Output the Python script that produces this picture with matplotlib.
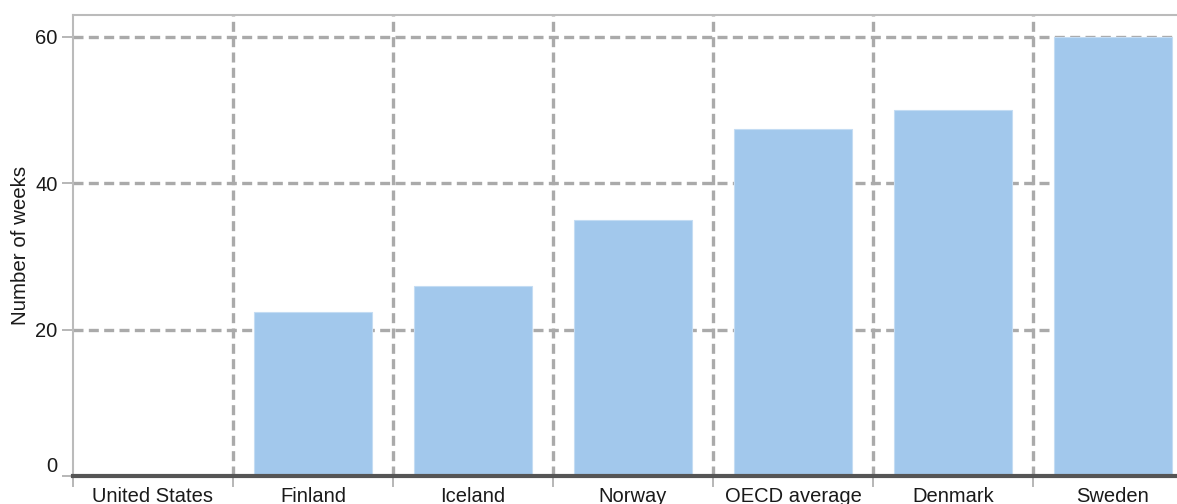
import matplotlib
matplotlib.use("Agg")
import matplotlib.pyplot as plt
import numpy as np

categories = ["United States", "Finland", "Iceland", "Norway", "OECD average", "Denmark", "Sweden"]
weeks = [0, 22.4, 26, 35, 47.4, 50, 60]
yticks = [0, 20, 40, 60]

plt.rcParams['font.family'] = ['Liberation Sans', 'DejaVu Sans']

W, H = 1177, 504
fig = plt.figure(figsize=(W / 100, H / 100), dpi=100)
left, right, top, bottom = 73, 1193, 15, 476
ax = fig.add_axes([left / W, 1 - bottom / H, (right - left) / W, (bottom - top) / H])

x = np.arange(len(categories))
ax.bar(x, weeks, width=0.74, color="#a2c8ec", edgecolor="#c4dcf3", linewidth=0.8, zorder=3)

ax.set_xlim(-0.5, len(categories) - 0.5)
ax.set_ylim(0, 63)

ax.set_xticks(x)
ax.set_xticklabels(categories, fontsize=14.5, color="#1a1a1a")
ax.set_xticks(np.arange(len(categories)) - 0.5, minor=True)
ax.tick_params(axis="x", which="major", length=0, pad=8)
ax.tick_params(axis="x", which="minor", length=8, width=1.2, color="#aaaaaa", direction="out")

ax.set_yticks(yticks)
ax.set_yticklabels([str(v) for v in yticks], fontsize=14.5, color="#1a1a1a")
ax.tick_params(axis="y", length=8, width=1.2, color="#aaaaaa", pad=3)
ax.get_yticklabels()[0].set_verticalalignment("bottom")

for v in yticks[1:]:
    ax.axhline(v, color="#aaaaaa", linestyle=(0, (3, 1.6)), linewidth=2.4, zorder=1)
for b in np.arange(1, len(categories)) - 0.5:
    ax.axvline(b, color="#aaaaaa", linestyle=(0, (3, 1.6)), linewidth=2.4, zorder=1)

ax.set_ylabel("Number of weeks", fontsize=14.8, color="#1a1a1a", labelpad=4)

ax.spines["left"].set_color("#bbbbbb")
ax.spines["left"].set_linewidth(1.5)
ax.spines["top"].set_color("#bbbbbb")
ax.spines["top"].set_linewidth(1.5)
ax.spines["right"].set_visible(False)
ax.spines["bottom"].set_color("#555555")
ax.spines["bottom"].set_linewidth(3)
ax.spines["bottom"].set_zorder(4)

fig.savefig("out.png", dpi=100)
